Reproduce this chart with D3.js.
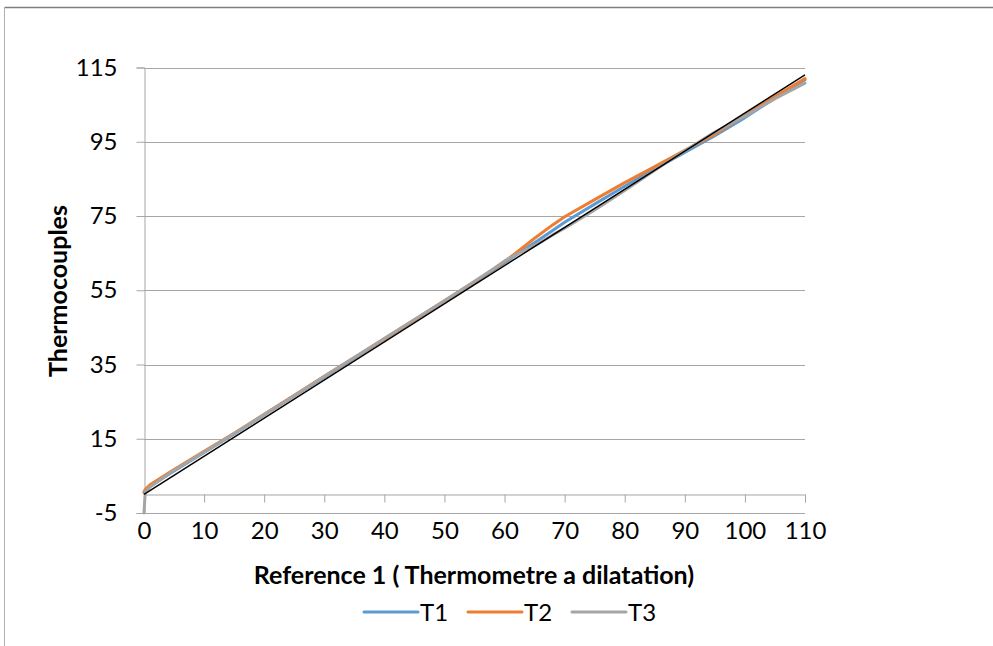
<!DOCTYPE html>
<html><head><meta charset="utf-8">
<script src="https://cdn.jsdelivr.net/npm/d3@7"></script>
<style>html,body{margin:0;padding:0;background:#fff;}svg{display:block;}</style>
</head><body>
<script>
const xValues = [0,0.2,1,5,10,15,20,25,30,35,40,45,50,55,58,60,62,65,68,70,75,80,85,90,95,100,105,110];
const t1 = [0.5,0.9,2.2,6.3,11.3,16.3,21.4,26.5,31.6,36.7,41.9,47.0,52.1,57.0,60.3,62.4,64.6,67.8,71.1,73.3,78.2,83.0,87.7,92.1,96.6,101.5,106.8,111.7];
const t2 = [0.8,1.3,2.6,6.7,11.6,16.5,21.6,26.7,31.8,36.9,41.9,47.0,52.2,57.3,60.5,62.7,65.2,69.0,72.6,74.8,79.4,84.0,88.3,92.7,97.0,102.1,107.2,112.0];
const t3 = [-5,0.6,2.0,6.5,11.4,16.4,21.5,26.6,31.8,36.9,42.0,47.1,52.2,57.4,60.6,62.9,64.7,67.0,69.9,71.7,76.6,81.9,87.3,92.6,97.6,101.9,106.6,110.8];
const refX = [0,110];
const refY = [0,113];
const seriesNames = ["T1","T2","T3"];
const xTicks = [0,10,20,30,40,50,60,70,80,90,100,110];
const yTicks = [-5,15,35,55,75,95,115];
const xTitle = "Reference 1 ( Thermometre a dilatation)";
const yTitle = "Thermocouples";

const colors = ["#5B9BD5","#ED7D31","#A5A5A5"];
const W = 993, H = 646;
const FONT = "Lato, 'Open Sans', sans-serif";
const svg = d3.select("body").append("svg").attr("width",W).attr("height",H);

// frame
svg.append("line").attr("x1",4.5).attr("x2",W).attr("y1",7.5).attr("y2",7.5).attr("stroke","#7f7f7f").attr("stroke-width",1.5);
svg.append("line").attr("x1",4.5).attr("x2",4.5).attr("y1",7.5).attr("y2",H).attr("stroke","#b0b0b0").attr("stroke-width",1);

const x = d3.scaleLinear().domain([0,110]).range([144,805]);
const y = d3.scaleLinear().domain([-5,115]).range([513,67.5]);
const fmt = d => String(d);

// gridlines
svg.append("g").selectAll("line").data(yTicks).join("line")
  .attr("x1",x(0)).attr("x2",x(110))
  .attr("y1",d=>Math.round(y(d))+0.5).attr("y2",d=>Math.round(y(d))+0.5)
  .attr("stroke","#a6a6a6").attr("stroke-width",1);

// y axis
const gy = svg.append("g").attr("transform",`translate(${x(0)+0.5},0)`)
  .call(d3.axisLeft(y).tickValues(yTicks).tickSize(8).tickPadding(19).tickFormat(fmt));
gy.select(".domain").attr("stroke","#a6a6a6");
gy.selectAll(".tick line").attr("stroke","#a6a6a6");
gy.selectAll("text").attr("font-family",FONT).attr("font-size",24).attr("fill","#000");

// x axis at y=0
const gx = svg.append("g").attr("transform",`translate(0,${Math.round(y(0))+0.5})`)
  .call(d3.axisBottom(x).tickValues(xTicks).tickSize(8).tickPadding(19).tickFormat(fmt));
gx.select(".domain").attr("stroke","#a6a6a6");
gx.selectAll(".tick line").attr("stroke","#a6a6a6");
gx.selectAll("text").attr("font-family",FONT).attr("font-size",24).attr("fill","#000");

// series
const line = d3.line().x(d=>x(d[0])).y(d=>y(d[1]));
[t1,t2,t3].forEach((s,i)=>{
  svg.append("path").datum(xValues.map((v,j)=>[v,s[j]]))
    .attr("d",line).attr("fill","none").attr("stroke",colors[i])
    .attr("stroke-width",3).attr("stroke-linejoin","round").attr("stroke-linecap","round");
});
svg.append("path").datum(refX.map((v,j)=>[v,refY[j]]))
  .attr("d",line).attr("fill","none").attr("stroke","#000").attr("stroke-width",1.5);

// titles
svg.append("text").attr("x",474).attr("y",584).attr("text-anchor","middle")
  .attr("font-family",FONT).attr("font-weight","bold").attr("font-size",25).text(xTitle);
svg.append("text").attr("transform","translate(67,291) rotate(-90)").attr("text-anchor","middle")
  .attr("font-family",FONT).attr("font-weight","bold").attr("font-size",25).text(yTitle);

// legend
const legX = [364,468,572];
seriesNames.forEach((n,i)=>{
  svg.append("line").attr("x1",legX[i]).attr("x2",legX[i]+54).attr("y1",612).attr("y2",612)
    .attr("stroke",colors[i]).attr("stroke-width",3).attr("stroke-linecap","round");
  svg.append("text").attr("x",legX[i]+56).attr("y",621).attr("font-family",FONT).attr("font-size",24).text(n);
});
</script>
</body></html>
